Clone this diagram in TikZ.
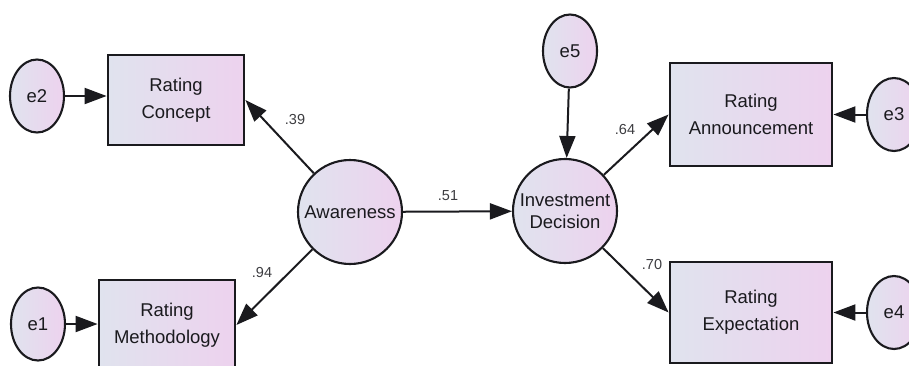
\documentclass[tikz,border=0pt]{standalone}
\usepackage{fontspec}
\setmainfont{Liberation Sans}
\usetikzlibrary{arrows.meta,shapes.geometric}
\definecolor{fillL}{HTML}{E0E3EE}
\definecolor{fillR}{HTML}{EDD2EE}
\definecolor{ink}{HTML}{1A1A1E}
\tikzset{
  observed/.style={draw=ink, line width=2.8pt, left color=fillL, right color=fillR,
    minimum width=#1, inner sep=0pt, align=center, text=ink,
    font=\fontsize{18.5}{27}\selectfont},
  latent/.style={circle, draw=ink, line width=2.1pt, left color=fillL, right color=fillR,
    minimum size=104pt, inner sep=0pt, align=center, text=ink,
    font=\fontsize{18.5}{22}\selectfont},
  errvar/.style={ellipse, draw=ink, line width=2.1pt, left color=fillL, right color=fillR,
    minimum width=54pt, minimum height=73pt, inner sep=0pt, text=ink,
    font=\fontsize{18.5}{22}\selectfont},
  path/.style={draw=ink, line width=2pt, -{Triangle[length=22pt,width=16pt]}},
  coef/.style={text=ink!85, font=\fontsize{14.5}{16}\selectfont, inner sep=0pt}
}
\begin{document}
\begin{tikzpicture}[x=1pt,y=-1pt]
\useasboundingbox (0,0) rectangle (909,365);

% observed indicators
\node[observed=136pt, minimum height=90pt]  (rc) at (176,100)   {Rating\\Concept};
\node[observed=136pt, minimum height=90pt]  (rm) at (167,325)   {Rating\\Methodology};
\node[observed=162pt, minimum height=103pt] (ra) at (751,114.5) {Rating\\Announcement};
\node[observed=162pt, minimum height=101pt] (re) at (751,312.5) {Rating\\Expectation};

% latent constructs
\node[latent] (aw)  at (350,212) {Awareness};
\node[latent] (inv) at (565,211) {Investment\\Decision};

% error terms
\node[errvar] (e2) at (37,96)   {e2};
\node[errvar] (e1) at (38,324)  {e1};
\node[errvar] (e5) at (570,51)  {e5};
\node[errvar] (e3) at (894,114.5) {e3};
\node[errvar] (e4) at (894,312.5) {e4};

% structural and measurement paths
\draw[path] (aw) -- (rc.east);
\draw[path] (aw) -- (rm.east);
\draw[path] (aw) -- (inv);
\draw[path] (inv) -- (ra.west);
\draw[path] (inv) -- (re.west);

% error paths
\draw[path] (e2) -- (e2 -| rc.west);
\draw[path] (e1) -- (e1 -| rm.west);
\draw[path] (e5) -- (inv);
\draw[path] (e3) -- (ra.east);
\draw[path] (e4) -- (re.east);

% standardized coefficients
\node[coef] (c39) at (295,120) {.39};
\node[coef] (c94) at (262,273) {.94};
\node[coef] (c51) at (448,196) {.51};
\node[coef] (c64) at (625,130) {.64};
\node[coef] (c70) at (652,265) {.70};
\end{tikzpicture}
\end{document}
